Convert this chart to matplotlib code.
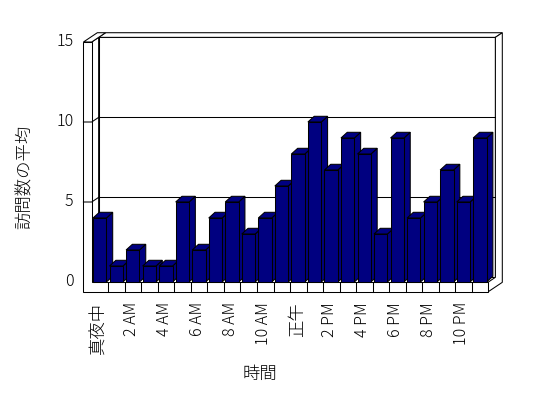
import matplotlib

matplotlib.use("Agg")
import matplotlib.pyplot as plt  # noqa: E402
from matplotlib.patches import Polygon  # noqa: E402

plt.rcParams["font.family"] = ["Noto Sans CJK JP", "DejaVu Sans"]

hours = list(range(24))
visits = [4, 1, 2, 1, 1, 5, 2, 4, 5, 3, 4, 6, 8, 10, 7, 9, 8, 3, 9, 4, 5, 7, 5, 9]
hour_labels = ["真夜中", "2 AM", "4 AM", "6 AM", "8 AM", "10 AM",
               "正午", "2 PM", "4 PM", "6 PM", "8 PM", "10 PM"]
y_ticks = [0, 5, 10, 15]
x_title = "時間"
y_title = "訪問数の平均"

BAR_COLOR = "#000080"
LINE = 0.75
WALL_DX, WALL_DY = 0.42, 0.29      # one depth step of the box
BAR_DX, BAR_DY = 0.38, 0.356        # depth of each column
WALL_T = 0.5                        # left wall thickness (categories)
FLOOR_T = 0.6                       # floor thickness (value units)
Y_TOP = y_ticks[-1]
N = len(hours)

fig = plt.figure(figsize=(5.48, 3.98), dpi=100)
ax = fig.add_axes([0, 0, 1, 1])
ax.set_xlim(-91.7 / 16.53, (548 - 91.7) / 16.53)
ax.set_ylim(-(398 - 282) / 16.0, 282 / 16.0)
ax.axis("off")


def poly(points, face="white", z=1):
    ax.add_patch(Polygon(points, closed=True, facecolor=face, edgecolor="black",
                         linewidth=LINE, zorder=z, joinstyle="miter"))


# back wall inner face + top + right side
bx0, by0 = WALL_DX, WALL_DY
poly([(bx0, by0), (N + bx0, by0), (N + bx0, Y_TOP + by0), (bx0, Y_TOP + by0)], z=1)
poly([(bx0, Y_TOP + by0), (N + bx0, Y_TOP + by0),
      (N + 2 * WALL_DX, Y_TOP + 2 * WALL_DY), (2 * WALL_DX, Y_TOP + 2 * WALL_DY)], z=1)
poly([(N, -FLOOR_T), (N, 0), (N + bx0, by0), (N + bx0, Y_TOP + by0),
      (N + 2 * WALL_DX, Y_TOP + 2 * WALL_DY), (N + 2 * WALL_DX, -FLOOR_T + 2 * WALL_DY)], z=1)

# gridlines on the back wall
for v in y_ticks[1:-1]:
    ax.plot([bx0, N + bx0], [v + by0, v + by0], color="black", lw=LINE, zorder=2)

# left wall inner face, top, and front L with floor
poly([(0, 0), (bx0, by0), (bx0, Y_TOP + by0), (0, Y_TOP)], z=3)
poly([(-WALL_T, Y_TOP), (0, Y_TOP), (2 * WALL_DX, Y_TOP + 2 * WALL_DY),
      (-WALL_T + 2 * WALL_DX, Y_TOP + 2 * WALL_DY)], z=3)
poly([(-WALL_T, -FLOOR_T), (N, -FLOOR_T), (N, 0), (0, 0), (0, Y_TOP), (-WALL_T, Y_TOP)], z=3)
for v in y_ticks[1:-1]:
    ax.plot([-WALL_T, 0, bx0], [v, v, v + by0], color="black", lw=LINE, zorder=4)
for i in range(1, N):
    ax.plot([i, i], [-FLOOR_T, 0], color="black", lw=LINE, zorder=4)

# columns
for i, v in zip(hours, visits):
    x0, x1 = i + 0.08, i + 0.89
    z = 10 + i
    poly([(x1, 0), (x1 + BAR_DX, BAR_DY), (x1 + BAR_DX, v + BAR_DY), (x1, v)], BAR_COLOR, z)
    poly([(x0, v), (x1, v), (x1 + BAR_DX, v + BAR_DY), (x0 + BAR_DX, v + BAR_DY)], BAR_COLOR, z)
    poly([(x0, 0), (x1, 0), (x1, v), (x0, v)], BAR_COLOR, z)

# axis text
for v in y_ticks:
    ax.text(-1.1, v, str(v), ha="right", va="center", fontsize=11.5, fontweight="light")
for k, lab in enumerate(hour_labels):
    cjk = not lab[0].isdigit()
    ax.text(2 * k + 0.4, -1.25, lab, rotation=90, ha="center", va="top",
            fontsize=12.5 if cjk else 11.5, fontweight="light")
ax.text(10.2, -5.75, x_title, ha="center", va="center", fontsize=12.5, fontweight="light")
ax.text(-4.05, 6.6, y_title, rotation=90, ha="center", va="center", fontsize=12.5,
        fontweight="light")

fig.savefig("out.png", dpi=100, facecolor="white")
